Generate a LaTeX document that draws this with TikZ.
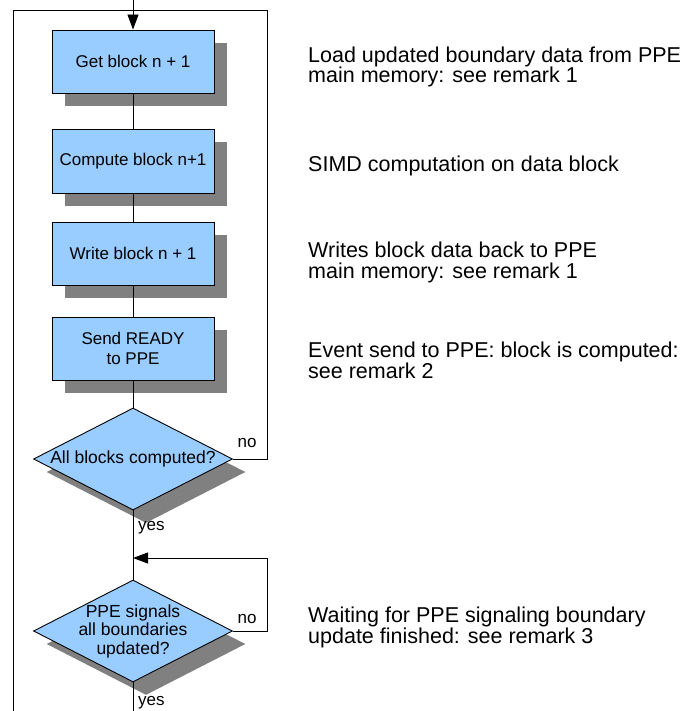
\documentclass[tikz,border=0pt]{standalone}
\usepackage{fontspec}
\setmainfont{Liberation Sans}
\usetikzlibrary{shapes.geometric,shadows,arrows.meta}
\definecolor{boxblue}{RGB}{153,204,255}
\definecolor{shadowgray}{RGB}{128,128,128}
\tikzset{
  flowline/.style={draw=black, line width=0.9pt},
  arrowline/.style={flowline, >={Triangle[length=15pt,width=11pt]}, ->},
  boxshadow/.style={drop shadow={shadow xshift=13pt, shadow yshift=-13pt, fill=shadowgray, opacity=1}},
  stepbox/.style={rectangle, draw=black, line width=0.9pt, fill=boxblue, minimum width=162pt, minimum height=63pt, inner sep=0pt, align=center, font=\fontsize{17}{20}\selectfont, boxshadow},
  decision/.style={diamond, draw=black, line width=0.9pt, fill=boxblue, minimum width=199pt, minimum height=102pt, inner sep=0pt, boxshadow},
  decisiontext/.style={align=center, inner sep=0pt, font=\fontsize{17.5}{18.5}\selectfont},
  remark/.style={anchor=base west, align=left, inner sep=0pt, font=\fontsize{21.5}{20.5}\selectfont},
  flowlabel/.style={anchor=base, inner sep=0pt, font=\fontsize{17}{20}\selectfont},
}
\begin{document}
\begin{tikzpicture}[x=1pt, y=-1pt]
\useasboundingbox (0,0) rectangle (693,711);

% boxes
\node[stepbox] (b1) at (133,61.5) {Get block n + 1};
\node[stepbox, minimum height=64pt] (b2) at (133,161) {Compute block n+1};
\node[stepbox] (b3) at (133,253.5) {Write block n + 1};
\node[stepbox] (b4) at (133,348.5) {Send READY\\to PPE};

% decisions
\node[decision] (d1) at (133,459) {};
\node[decisiontext] (d1t) at (133,459) {All blocks computed?};
\node[decision] (d2) at (133,631) {};
\node[decisiontext] (d2t) at (133,631) {PPE signals\\all boundaries\\updated?};

% coordinates for connector routing
\coordinate (topin) at (133,0);
\coordinate (join1) at (133,10);
\coordinate (tr) at (267,10);
\coordinate (tl) at (13,10);
\coordinate (bl) at (13,711);
\coordinate (r1) at (267,459);
\coordinate (join2) at (133,558);
\coordinate (r2top) at (267,558);
\coordinate (r2) at (267,631);
\coordinate (bottomout) at (133,711);

% connectors
\draw[flowline] (b1.south) -- (b2.north);
\draw[flowline] (b2.south) -- (b3.north);
\draw[flowline] (b3.south) -- (b4.north);
\draw[flowline] (b4.south) -- (d1.north);
\draw[flowline] (d1.east) -- (r1) -- (tr) -- (join1);
\draw[flowline] (bl) -- (tl) -- (join1);
\draw[flowline] (d1.south) -- (d2.north);
\draw[flowline] (d2.south) -- (bottomout);
\draw[arrowline] (topin) -- (b1.north);
\draw[arrowline] (d2.east) -- (r2) -- (r2top) -- (join2);

% labels
\node[flowlabel] (no1) at (247,447) {no};
\node[flowlabel, anchor=base west] (yes1) at (138,530) {yes};
\node[flowlabel] (no2) at (247,623) {no};
\node[flowlabel, anchor=base west] (yes2) at (138,705) {yes};

% remarks (base anchor = baseline of last line)
\node[remark] (m1) at (308,83) {Load updated boundary data from PPE\\main memory: see remark 1};
\node[remark] (m2) at (308,172) {SIMD computation on data block};
\node[remark] (m3) at (308,278) {Writes block data back to PPE\\main memory: see remark 1};
\node[remark] (m4) at (308,378) {Event send to PPE: block is computed:\\see remark 2};
\node[remark] (m5) at (308,643) {Waiting for PPE signaling boundary\\update finished: see remark 3};
\end{tikzpicture}
\end{document}
